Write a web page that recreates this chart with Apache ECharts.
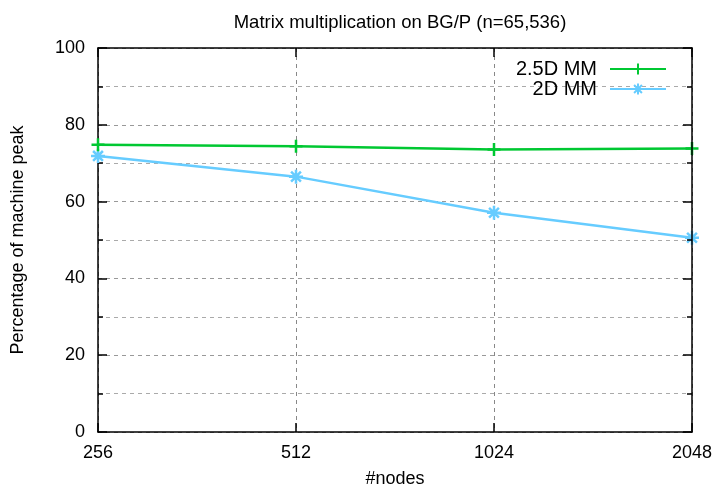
<!DOCTYPE html>
<html>
<head>
<meta charset="utf-8">
<script src="https://cdn.jsdelivr.net/npm/echarts@6/dist/echarts.min.js"></script>
<style>
html,body{margin:0;padding:0;background:#fff;}
#chart{width:717px;height:493px;}
</style>
</head>
<body>
<div id="chart"></div>
<script>
// node counts (x) and percentage of peak for each series
let nodes = [256, 512, 1024, 2048];
let mm25d = [74.8, 74.4, 73.6, 73.8];
let mm2d = [71.9, 66.5, 57.1, 50.6];

let FONT = 'Liberation Sans';
let plusPath = 'path://M0,-1L0,1M-1,0L1,0';
let starPath = 'path://M0,-1L0,1M-1,0L1,0M-0.7,-0.7L0.7,0.7M-0.7,0.7L0.7,-0.7';

function pairs(vals){
    return nodes.map(function(n,i){ return [n, vals[i]]; });
}

let chart = echarts.init(document.getElementById('chart'));
let yCommon = {
    type:'value', min:0, max:100, interval:20,
    axisLine:{show:true, onZero:false, lineStyle:{color:'#000', width:1.5}},
    axisTick:{show:true, inside:true, length:9, lineStyle:{color:'#000', width:1.5}},
    minorTick:{show:true, splitNumber:2, length:5, lineStyle:{color:'#000', width:1.5}},
    splitLine:{show:false},
};
let option = {
    animation:false,
    title:{
        text:'Matrix multiplication on BG/P (n=65,536)',
        left:395, top:8, textAlign:'center',
        textStyle:{fontFamily:FONT, fontSize:18.5, fontWeight:'normal', color:'#000'}
    },
    grid:{left:98, right:25, top:48, bottom:60},
    legend:{
        right:45, top:54, orient:'vertical', align:'right',
        itemWidth:56, itemHeight:14, itemGap:0,
        textStyle:{fontFamily:FONT, fontSize:20, color:'#000', padding:[0,8,0,0]},
        data:['2.5D MM','2D MM']
    },
    xAxis:[{
        type:'log', logBase:2, min:256, max:2048,
        name:'#nodes', nameLocation:'middle', nameGap:38,
        nameTextStyle:{fontFamily:FONT, fontSize:18, color:'#000'},
        axisLine:{onZero:false, lineStyle:{color:'#000', width:1.5}},
        axisTick:{inside:true, length:9, lineStyle:{color:'#000', width:1.5}},
        axisLabel:{fontFamily:FONT, fontSize:18, color:'#000', margin:12,
            formatter:function(v){ return String(Math.round(v)); }},
        splitLine:{show:true, lineStyle:{color:'#888', type:[4,4], width:1}},
        z:1
    },{
        type:'log', logBase:2, min:256, max:2048, position:'top',
        axisLine:{onZero:false, lineStyle:{color:'#000', width:1.5}},
        axisTick:{inside:true, length:9, lineStyle:{color:'#000', width:1.5}},
        axisLabel:{show:false}, splitLine:{show:false},
        z:5
    }],
    yAxis:[Object.assign({}, yCommon, {
        name:'Percentage of machine peak', nameLocation:'middle', nameGap:71,
        nameTextStyle:{fontFamily:FONT, fontSize:18, color:'#000'},
        axisLabel:{fontFamily:FONT, fontSize:18, color:'#000', margin:13},
        splitLine:{show:true, lineStyle:{color:'#999', type:[4,4], width:1}},
        minorSplitLine:{show:true, lineStyle:{color:'#aaa', type:[4,4], width:1}},
        z:1
    }), Object.assign({}, yCommon, {
        position:'right', axisLabel:{show:false}, z:5
    })],
    series:[{
        name:'2.5D MM', type:'line', data:pairs(mm25d),
        symbol:plusPath, symbolSize:13,
        lineStyle:{color:'#00c832', width:2.5},
        itemStyle:{color:'#00c832', borderColor:'#00c832', borderWidth:2.5},
        z:3
    },{
        name:'2D MM', type:'line', data:pairs(mm2d),
        symbol:starPath, symbolSize:14,
        lineStyle:{color:'#66ccff', width:2.5},
        itemStyle:{color:'#66ccff', borderColor:'#66ccff', borderWidth:2.5},
        z:2
    }]
};
chart.setOption(option);
</script>
</body>
</html>
